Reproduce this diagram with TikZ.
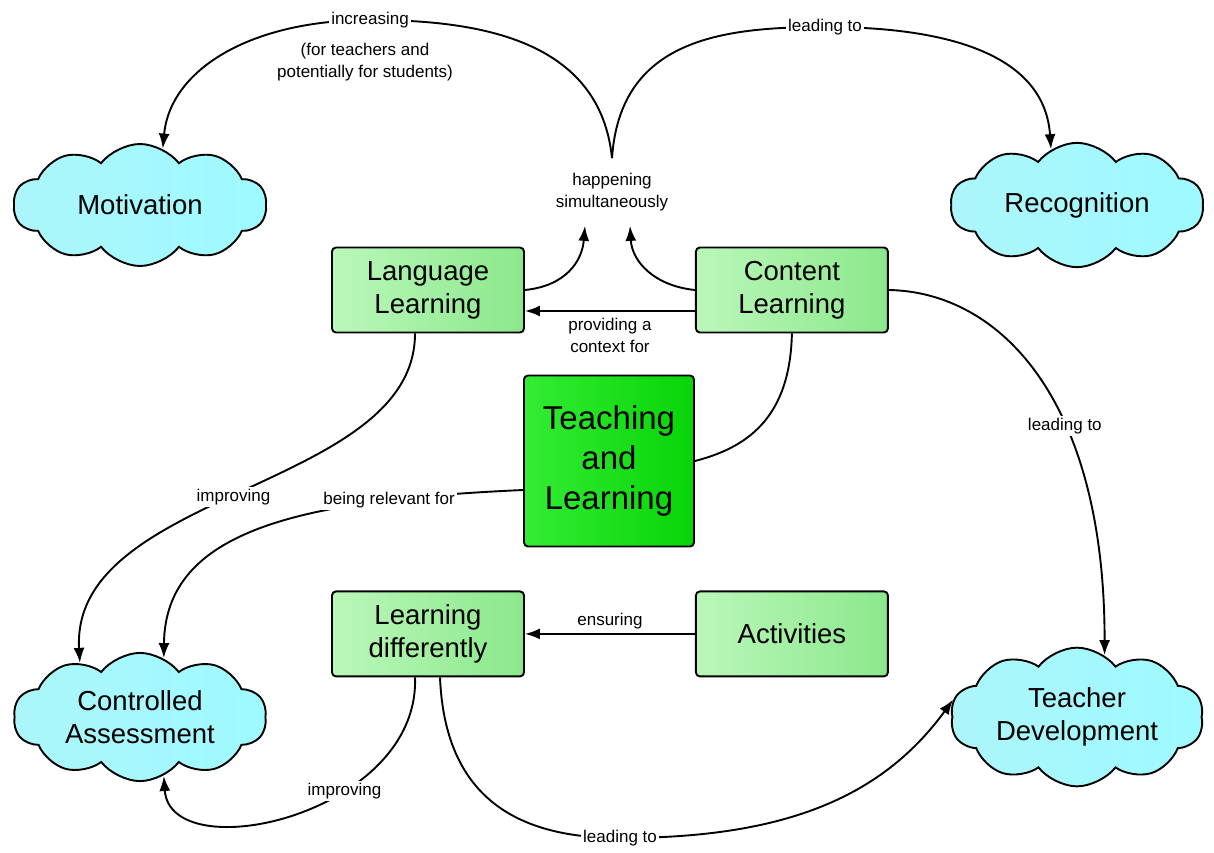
\documentclass[tikz,border=0pt]{standalone}
\usepackage{fontspec}
\setmainfont{Liberation Sans}
\usepackage{tikz}
\usetikzlibrary{arrows.meta}
\usetikzlibrary{shapes.symbols}
\usetikzlibrary{positioning}

\definecolor{boxleft}{RGB}{186,247,186}
\definecolor{boxright}{RGB}{140,232,140}
\definecolor{mainleft}{RGB}{52,236,52}
\definecolor{mainright}{RGB}{8,212,8}
\definecolor{cloudleft}{RGB}{172,246,250}
\definecolor{cloudright}{RGB}{158,250,255}

\begin{document}
\begin{tikzpicture}
        [x=1pt,y=-1pt,line width=1.9pt,>={Latex[length=15pt,width=11pt]},
          box/.style={rectangle,draw,rounded corners=4pt,left color=boxleft,right color=boxright,
            minimum width=192pt,minimum height=85pt,align=center,font=\fontsize{27.5}{33}\selectfont},
          topic/.style={cloud,draw,cloud puffs=10,cloud puff arc=105,aspect=2.1,inner sep=0pt,
            left color=cloudleft,right color=cloudright,minimum width=253pt,minimum height=122pt,
            align=center,font=\fontsize{27.5}{33}\selectfont},
          lbl/.style={fill=white,inner sep=2pt,align=center,font=\fontsize{17}{22}\selectfont}]
        \useasboundingbox (0,0) rectangle (1214,853);
        % the four clouds
        \node[topic] (motiv) at (140,205) {Motivation};
        \node[topic] (recog) at (1077,205) {Recognition};
        \node[topic] (cass) at (140,717) {Controlled\\Assessment};
        \node[topic] (tdev) at (1077,717) {Teacher\\Development};
        % the boxes
        \node[box] (lang) at (428,290) {Language\\Learning};
        \node[box] (cont) [right=170pt of lang] {Content\\Learning};
        \node[box] (ld) [below=257pt of lang] {Learning\\differently};
        \node[box] (act) [right=170pt of ld] {Activities};
        \node[box,left color=mainleft,right color=mainright,minimum width=170pt,minimum height=171pt,
          font=\fontsize{33}{40}\selectfont] (tl) at (609,461) {Teaching\\and\\Learning};
        \node[lbl,inner sep=14pt] (happ) at (612,192) {happening\\simultaneously};
        \node[lbl] (note) at (365,62) {(for teachers and\\potentially for students)};
        % connectors
        \draw[->] (happ.north) .. controls (600,40) and (480,20) .. (370,20) node[lbl] {increasing}
          .. controls (250,20) and (170,70) .. (motiv.68);
        \draw[->] (happ.north) .. controls (620,40) and (720,27) .. (825,27) node[lbl] {leading to}
          .. controls (960,27) and (1045,60) .. (recog.115);
        \draw[->] (lang.east) .. controls (565,286) and (582,262) .. ([xshift=-27pt]happ.south);
        \draw[->] (cont.west) .. controls (655,286) and (632,262) .. ([xshift=18pt]happ.south);
        \draw[->] ([yshift=-21pt]cont.west) -- node[lbl,below=4pt] {providing a\\context for} ([yshift=-21pt]lang.east);
        \draw[->] (cont.east) .. controls (1000,292) and (1105,400) .. node[lbl,pos=0.62] {leading to} (tdev.66);
        \draw[->] ([xshift=-13pt]lang.south) .. controls (415,490) and (70,490) .. node[lbl,pos=0.52] {improving} (cass.138);
        \draw (cont.south) .. controls (790,420) and (745,448) .. (tl.east);
        \draw[->] ([yshift=-29pt]tl.west) .. controls (300,500) and (165,530) .. node[lbl,pos=0.22] {being relevant for} (cass.68);
        \draw[->] (act.west) -- node[lbl,above=2pt] {ensuring} (ld.east);
        \draw[->] ([xshift=-13pt]ld.south) .. controls (420,815) and (170,870) .. node[lbl,pos=0.36] {improving} (cass.292);
        \draw[->] ([xshift=12pt]ld.south) .. controls (445,800) and (520,838) .. (620,838) node[lbl] {leading to}
          .. controls (780,838) and (880,800) .. (tdev.172);
      \end{tikzpicture}
\end{document}
